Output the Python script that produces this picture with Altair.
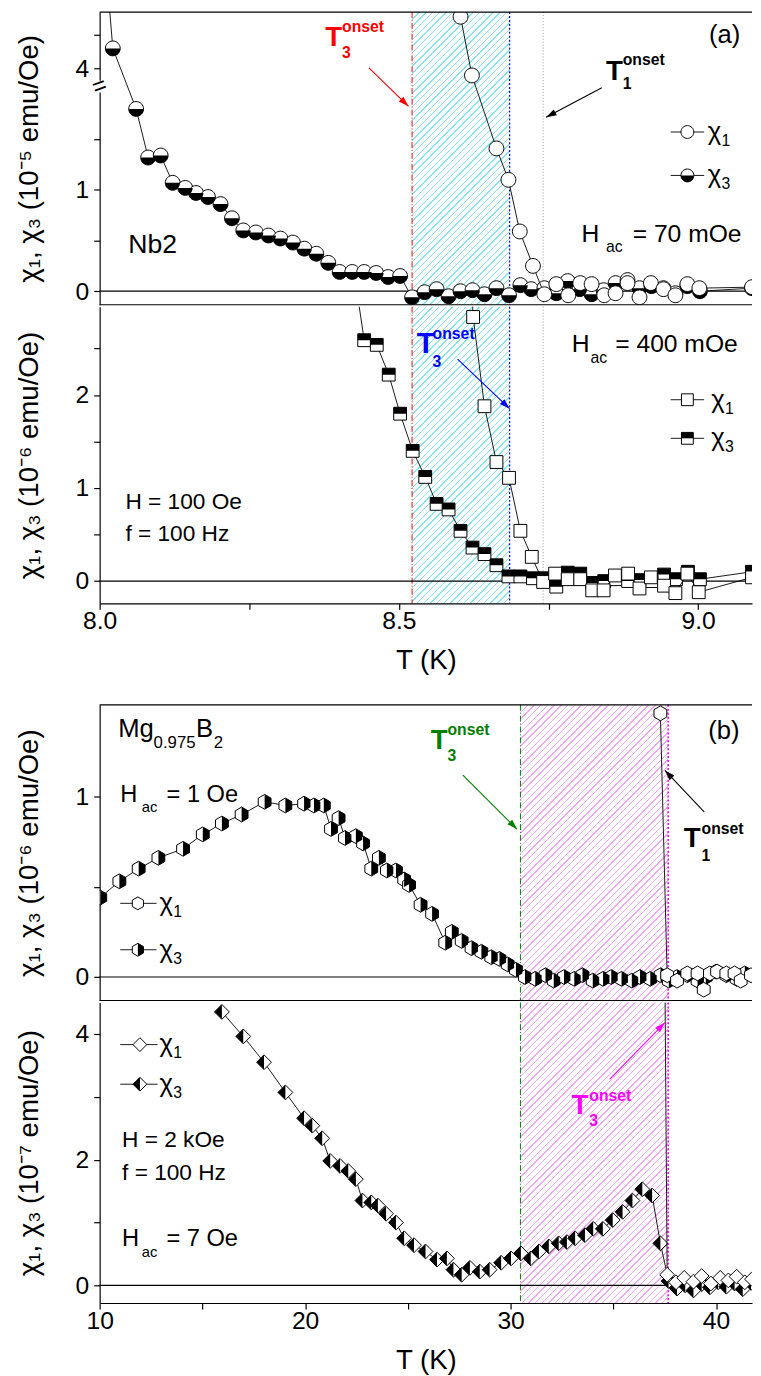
import math
import altair as alt
import pandas as pd

FONT = "Liberation Sans"

# ====================== DATA ======================
# (a) Nb2, upper panel, H_ac = 70 mOe, chi in 1e-5 emu/Oe
nb70_T_chi3 = [8.002, 8.022, 8.061, 8.081, 8.102, 8.122, 8.143, 8.161, 8.181, 8.202,
               8.221, 8.240, 8.261, 8.282, 8.302, 8.323, 8.342, 8.362, 8.382, 8.401,
               8.422, 8.442, 8.462, 8.482, 8.502, 8.522, 8.543, 8.563, 8.583, 8.603,
               8.623, 8.643, 8.663, 8.684, 8.703, 8.721, 8.743, 8.763, 8.782, 8.802,
               8.822, 8.842, 8.862, 8.882, 8.902, 8.922, 8.942, 8.962, 8.982, 9.003, 9.09]
nb70_chi3 = [6.5, 4.30, 1.80, 1.32, 1.34, 1.07, 1.02, 0.97, 0.93, 0.86,
             0.72, 0.60, 0.58, 0.55, 0.52, 0.48, 0.42, 0.37, 0.28, 0.19,
             0.19, 0.19, 0.18, 0.14, 0.15, -0.06, -0.01, 0.02, -0.05, 0.00,
             0.01, -0.03, 0.03, -0.04, 0.06, 0.02, 0.03, -0.02, 0.10, 0.02,
             -0.03, 0.01, 0.08, 0.11, 0.03, 0.05, 0.03, -0.02, 0.05, 0.00, 0.03]
nb70_T_chi1 = [8.603, 8.622, 8.663, 8.683, 8.702, 8.724, 8.743, 8.763, 8.783, 8.803,
               8.822, 8.843, 8.862, 8.882, 8.902, 8.921, 8.942, 8.962, 8.982, 9.002, 9.09]
nb70_chi1 = [4.78, 3.89, 1.41, 1.10, 0.59, 0.25, -0.03, 0.07, -0.04, 0.08,
             0.07, -0.04, -0.02, 0.08, -0.06, 0.08, 0.02, -0.04, 0.07, 0.03, 0.04]

# (a) Nb2, lower panel, H_ac = 400 mOe, chi in 1e-6 emu/Oe
nb400_T_chi3 = [8.422, 8.442, 8.463, 8.483, 8.502, 8.523, 8.544, 8.563, 8.583, 8.603,
                8.623, 8.643, 8.663, 8.683, 8.703, 8.724, 8.743, 8.763, 8.782, 8.803,
                8.823, 8.843, 8.863, 8.883, 8.903, 8.923, 8.943, 8.963, 8.983, 9.003, 9.09]
nb400_chi3 = [3.46, 2.59, 2.54, 2.22, 1.80, 1.40, 1.12, 0.83, 0.77, 0.54,
              0.36, 0.29, 0.17, 0.05, 0.05, 0.03, 0.03, -0.06, 0.09, 0.08,
              -0.02, 0.00, 0.02, 0.00, 0.01, 0.00, 0.07, 0.02, 0.10, 0.02, 0.10]
nb400_T_chi1 = [8.603, 8.624, 8.643, 8.663, 8.684, 8.703, 8.722, 8.741, 8.761, 8.782,
                8.803, 8.823, 8.842, 8.861, 8.883, 8.902, 8.921, 8.943, 8.962, 8.982, 9.001, 9.09]
nb400_chi1 = [6.0, 2.84, 1.88, 1.28, 1.11, 0.54, 0.26, -0.01, 0.08, 0.02,
              0.02, -0.10, -0.10, 0.06, 0.08, -0.08, 0.04, -0.05, -0.13, 0.08, -0.12, 0.04]

# (b) Mg0.975B2, upper panel, H_ac = 1 Oe, chi in 1e-6 emu/Oe
mg1_T_chi3 = [10.03, 10.96, 11.90, 12.86, 14.06, 15.02, 15.95, 16.91, 18.03, 19.04,
              19.95, 20.43, 20.91, 21.26, 21.63, 21.94, 22.47, 22.82, 23.22, 23.59,
              23.98, 24.42, 24.82, 25.06, 25.62, 26.18, 26.82, 27.14, 27.62, 28.10,
              28.58, 29.06, 29.46, 29.86, 30.26, 30.70, 31.20, 31.70, 32.10, 32.60,
              33.10, 33.50, 34.00, 34.50, 34.90, 35.40, 35.90, 36.30, 36.80, 37.30,
              37.70, 38.10, 38.60, 39.10, 39.50, 40.00, 40.50, 41.00, 41.40]
mg1_chi3 = [0.44, 0.53, 0.60, 0.66, 0.71, 0.79, 0.85, 0.90, 0.97, 0.95,
            0.96, 0.95, 0.95, 0.82, 0.88, 0.77, 0.78, 0.74, 0.60, 0.66,
            0.59, 0.59, 0.54, 0.51, 0.40, 0.35, 0.19, 0.25, 0.20, 0.16,
            0.14, 0.11, 0.10, 0.07, 0.04, 0.00, -0.01, 0.01, -0.02, 0.00,
            -0.01, 0.01, -0.02, -0.01, 0.00, -0.01, -0.02, 0.00, -0.01, 0.01,
            -0.02, 0.00, 0.01, -0.02, 0.00, 0.03, 0.01, -0.01, 0.02]
mg1_T_chi1 = [37.29, 37.62, 38.10, 38.60, 39.10, 39.40, 39.70, 40.05, 40.50, 40.90, 41.20, 41.70]
mg1_chi1 = [1.46, 0.01, -0.02, 0.02, 0.02, -0.07, 0.02, 0.03, 0.02, 0.02, -0.02, 0.01]

# (b) Mg0.975B2, lower panel, H_ac = 7 Oe, chi in 1e-7 emu/Oe
mg7_T_chi3 = [15.95, 16.99, 18.00, 19.04, 19.95, 20.35, 20.83, 21.22, 21.70, 22.10,
              22.47, 22.79, 23.22, 23.54, 23.94, 24.42, 24.82, 25.30, 25.86, 26.42,
              26.90, 27.22, 27.62, 28.02, 28.50, 28.98, 29.54, 30.02, 30.50, 30.98,
              31.38, 31.86, 32.34, 32.74, 33.14, 33.62, 34.02, 34.49, 34.97, 35.45,
              35.93, 36.41, 36.89, 37.29, 37.69, 38.10, 38.50, 38.90, 39.30, 39.70,
              40.10, 40.50, 40.90, 41.30, 41.70]
mg7_chi3 = [4.35, 3.96, 3.55, 3.07, 2.66, 2.54, 2.34, 1.98, 1.90, 1.82,
            1.69, 1.35, 1.32, 1.27, 1.14, 1.00, 0.75, 0.64, 0.54, 0.41,
            0.43, 0.25, 0.17, 0.28, 0.22, 0.25, 0.36, 0.43, 0.51, 0.43,
            0.54, 0.62, 0.67, 0.69, 0.75, 0.80, 0.90, 0.90, 1.04, 1.17,
            1.35, 1.53, 1.43, 0.67, 0.07, -0.05, 0.00, -0.08, 0.02, -0.03,
            0.05, -0.02, 0.03, -0.06, 0.04]
mg7_T_chi1 = [37.29, 37.62, 38.05, 38.45, 38.90, 39.30, 39.75, 40.20, 40.60, 41.00, 41.40, 41.75]
mg7_chi1 = [14.6, 0.17, 0.05, 0.12, 0.06, 0.15, 0.03, 0.12, 0.08, 0.14, 0.05, 0.10]

# characteristic temperatures (K)
NB_T3_70 = 8.522
NB_T3_400 = 8.685
NB_T1 = 8.741
MG_T3_1 = 30.48
MG_T3_7 = 37.67

# tick values
A_XVALS = [8.0, 8.25, 8.5, 8.75, 9.0]
B_XVALS = [10, 15, 20, 25, 30, 35, 40]

# ====================== LAYOUT / STYLE ======================
W = 662
A_X = [8.0, 9.09]
B_X = [10.0, 41.75]
H_A1, H_A2, H_B1, H_B2 = 297, 301, 300, 305
A1_Y = [-0.134, 2.756]          # broken axis (transformed units)
A2_Y = [-0.24, 2.95]
B1_Y = [-0.13, 1.507]
B2_Y = [-0.28, 4.5]
BRK_LO, BRK_HI, BRK_R = 2.02, 3.72, 0.651


def brk(v):
    return v if v <= BRK_LO else BRK_LO + max(v - BRK_HI, 0) * BRK_R


BRK_EXPR = f"datum.v <= {BRK_LO} ? datum.v : {BRK_LO} + max(datum.v - {BRK_HI}, 0) * {BRK_R}"

YTP = 32      # y title padding
XTP = 13      # x title padding
LBL = 25
TTL = 28

CIRCLE = "M -1 0 A 1 1 0 1 0 1 0 A 1 1 0 1 0 -1 0 Z"
CIRCLE_BOT = "M -1 0 A 1 1 0 0 0 1 0 Z"
SQUARE = "M -1 -1 L 1 -1 L 1 1 L -1 1 Z"
SQUARE_TOP = "M -1 -1 L 1 -1 L 1 0 L -1 0 Z"
HEX = "M 0 -1 L 0.866 -0.5 L 0.866 0.5 L 0 1 L -0.866 0.5 L -0.866 -0.5 Z"
HEX_RIGHT = "M 0 -1 L 0.866 -0.5 L 0.866 0.5 L 0 1 Z"
DIAMOND = "M 0 -1 L 1 0 L 0 1 L -1 0 Z"
DIAMOND_LEFT = "M 0 -1 L 0 1 L -1 0 Z"
ARROW = "M 0 0 L 0.42 1.3 L -0.42 1.3 Z"
GAP = "M -0.5 -1 L 0.5 -1 L 0.5 1 L -0.5 1 Z"

CYAN = "#86e6f1"
MAGENTA_H = "#f4a6f4"


def make_xy(xdom, ydom, xax, yax):
    """Every layer of a panel uses the very same scale and axis definitions."""
    xs = alt.Scale(domain=xdom, nice=False, zero=False)
    ys = alt.Scale(domain=ydom, nice=False, zero=False)

    def X(f="T"):
        return alt.X(f"{f}:Q", scale=xs, axis=xax)

    def Y(f="v"):
        return alt.Y(f"{f}:Q", scale=ys, axis=yax)
    return X, Y


def hatch_fill(color, w, h, period=4.8, lw=1.0):
    k = (w + h) / (w * w + h * h)
    n = max(1, int(round((w + h) / math.sqrt(2) / period)))
    clear = "rgba(255,255,255,0)"
    f = lw / period
    stops = []
    for i in range(n):
        a, b, c = i / n, (i + f) / n, (i + 1) / n
        stops += [alt.GradientStop(offset=a, color=color), alt.GradientStop(offset=b, color=color),
                  alt.GradientStop(offset=b, color=clear), alt.GradientStop(offset=c, color=clear)]
    return alt.LinearGradient(gradient="linear", stops=stops, x1=0, y1=0, x2=w * k, y2=h * k)


def yaxis(title, values, expr):
    return alt.Axis(title=title, values=values, labelExpr=expr, orient="left", tickSize=6,
                    labelPadding=5, titlePadding=YTP, labelOverlap=False, grid=False)


def xaxis_full(values, expr):
    return alt.Axis(orient="bottom", title="T (K)", values=values, labelExpr=expr, labelFlush=False,
                    labelOverlap=False, tickSize=6, labelPadding=0, titlePadding=XTP, grid=False, zindex=1)


def xaxis_spacer(pad):
    return alt.Axis(orient="top", title=" ", titleFontSize=20, titlePadding=pad, labels=False,
                    ticks=False, domain=False, grid=False)


def base_layers(X, Y, xdom, ydom, H, hatch, vlines):
    t0, t1, col = hatch
    w = (t1 - t0) * W / (xdom[1] - xdom[0])
    layers = [alt.Chart(pd.DataFrame({"T": [t0], "T2": [t1], "v": [ydom[0]], "v2": [ydom[1]]}))
              .mark_rect(fill=hatch_fill(col, w, H), strokeWidth=0)
              .encode(x=X(), x2="T2", y=Y(), y2="v2")]
    for (T, color, dash, sw) in vlines:
        layers.append(alt.Chart(pd.DataFrame({"T": [T]}))
                      .mark_rule(color=color, strokeDash=dash, strokeWidth=sw)
                      .encode(x=X("T")))
    layers.append(alt.Chart(pd.DataFrame({"v": [0.0]}))
                  .mark_rule(color="black", strokeWidth=1.2).encode(y=Y("v")))
    return layers


def frame(X, Y, levels):
    return [alt.Chart(pd.DataFrame({"v": [lv]})).mark_rule(color="black", strokeWidth=1.2)
            .encode(y=Y()) for lv in levels]


def series(X, Y, T, vals, full, half, size, calc=None):
    base = alt.Chart(pd.DataFrame({"T": T, "v": vals}))
    yf = "v"
    if calc:
        base = base.transform_calculate(p=calc)
        yf = "p"
    out = [base.mark_line(color="black", strokeWidth=0.9, clip=True).encode(x=X(), y=Y(yf)),
           base.mark_point(shape=full, filled=True, fill="white", stroke="black", strokeWidth=1,
                           size=size, opacity=1, clip=True).encode(x=X(), y=Y(yf))]
    if half:
        out.append(base.mark_point(shape=half, filled=True, fill="black", strokeWidth=0,
                                   size=size, opacity=1, clip=True).encode(x=X(), y=Y(yf)))
    return out


def label(X, Y, T, v, s, size, dx=0, dy=0, color="black", bold=False):
    return (alt.Chart(pd.DataFrame({"T": [T], "v": [v], "s": [s]}))
            .mark_text(align="left", baseline="middle", font=FONT, fontSize=size,
                       fontWeight="bold" if bold else "normal", color=color, dx=dx, dy=dy)
            .encode(x=X(), y=Y(), text="s:N"))


def onset(X, Y, T, v, sub, color, size=28, small=16, dx=17, dy_up=-11, dy_dn=15):
    return [label(X, Y, T, v, "T", size, color=color, bold=True),
            label(X, Y, T, v, "onset", small, dx=dx, dy=dy_up, color=color, bold=True),
            label(X, Y, T, v, sub, small, dx=dx, dy=dy_dn, color=color, bold=True)]


def hac(X, Y, T, v, rest, size, dx_ac, dx_rest, dy_ac=14):
    return [label(X, Y, T, v, "H", size),
            label(X, Y, T, v, "ac", round(size * 0.62), dx=dx_ac, dy=dy_ac),
            label(X, Y, T, v, rest, size, dx=dx_rest)]


def arrow(X, Y, T0, v0, T1, v1, color, sx, sy):
    ang = math.degrees(math.atan2((T1 - T0) * sx, (v1 - v0) * sy)) % 360
    shaft = (alt.Chart(pd.DataFrame({"T": [T0], "v": [v0], "T2": [T1], "v2": [v1]}))
             .mark_rule(color=color, strokeWidth=1.1).encode(x=X(), y=Y(), x2="T2", y2="v2"))
    head = (alt.Chart(pd.DataFrame({"T": [T1], "v": [v1]}))
            .mark_point(shape=ARROW, filled=True, color=color, size=260, angle=ang, opacity=1)
            .encode(x=X(), y=Y()))
    return [shaft, head]


def legend_entry(X, Y, Ta, Tb, Ts, Tt, v, full, half, size, sub):
    out = [alt.Chart(pd.DataFrame({"T": [Ta], "T2": [Tb], "v": [v]}))
           .mark_rule(color="black", strokeWidth=0.9).encode(x=X(), x2="T2", y=Y())]
    p = alt.Chart(pd.DataFrame({"T": [Ts], "v": [v]}))
    out.append(p.mark_point(shape=full, filled=True, fill="white", stroke="black", strokeWidth=1,
                            size=size, opacity=1).encode(x=X(), y=Y()))
    if half:
        out.append(p.mark_point(shape=half, filled=True, fill="black", strokeWidth=0,
                                size=size, opacity=1).encode(x=X(), y=Y()))
    out.append(label(X, Y, Tt, v, "χ", 26))
    out.append(label(X, Y, Tt, v, sub, 16, dx=14, dy=9))
    return out


A_XEXPR = "round(datum.value * 4) % 2 == 0 ? format(datum.value, '.1f') : ''"
B_XEXPR = "datum.value % 10 == 0 ? '' + datum.value : ''"
INT_EXPR = "datum.value % 1 == 0 ? '' + datum.value : ''"
sxA = W / (A_X[1] - A_X[0])
sxB = W / (B_X[1] - B_X[0])

a_vlines = [(NB_T3_70, "#ff0000", [6, 2, 1, 2], 1.0),
            (NB_T3_400, "#0000ff", [2, 2], 1.2),
            (NB_T1, "#999999", [1, 2], 1.0)]
b_vlines = [(MG_T3_1, "#008000", [6, 2, 1, 2], 1.0),
            (MG_T3_7, "#ff00ff", [2, 2], 1.6)]

# ---------------- (a) upper ----------------
p4, p45 = brk(4.0), brk(4.5)
a1_yax = yaxis("χ₁, χ₃ (10⁻⁵ emu/Oe)", [0, 0.5, 1, 1.5, p4, p45],
               f"datum.value == 0 ? '0' : (datum.value == 1 ? '1' : (abs(datum.value - {p4!r}) < 0.001 ? '4' : ''))")
X, Y = make_xy(A_X, A1_Y, None, a1_yax)
syA1 = H_A1 / (A1_Y[1] - A1_Y[0])
L = base_layers(X, Y, A_X, A1_Y, H_A1, (NB_T3_70, NB_T3_400, CYAN), a_vlines)
L += series(X, Y, nb70_T_chi3, nb70_chi3, CIRCLE, CIRCLE_BOT, 225, calc=BRK_EXPR)
L += series(X, Y, nb70_T_chi1, nb70_chi1, CIRCLE, None, 225, calc=BRK_EXPR)
bdf = pd.DataFrame({"T": [A_X[0]], "v": [BRK_LO]})
L.append(alt.Chart(bdf).mark_point(shape=GAP, filled=True, fill="white", strokeWidth=0, size=144, opacity=1)
         .encode(x=X(), y=Y()))
L.append(alt.Chart(bdf).mark_text(text="=", font=FONT, fontSize=24, angle=340, align="center",
                                  baseline="middle", color="black").encode(x=X(), y=Y()))
L += onset(X, Y, 8.377, 2.498, "3", "#ff0000")
L += arrow(X, Y, 8.450, 2.206, 8.516, 1.826, "#ff0000", sxA, syA1)
L += onset(X, Y, 8.846, 2.167, "1", "black", dy_up=-12, dy_dn=13)
L += arrow(X, Y, 8.839, 2.010, 8.746, 1.718, "black", sxA, syA1)
L.append(label(X, Y, 8.048, 0.451, "Nb2", 27))
L.append(label(X, Y, 9.018, 2.527, "(a)", 26))
L += hac(X, Y, 8.805, 0.568, "= 70 mOe", 25, 25, 52)
L += legend_entry(X, Y, 8.954, 9.010, 8.982, 9.016, 1.572, CIRCLE, None, 170, "1")
L += legend_entry(X, Y, 8.954, 9.010, 8.982, 9.016, 1.143, CIRCLE, CIRCLE_BOT, 170, "3")
L += frame(X, Y, A1_Y)
a1 = alt.layer(*L).properties(width=W, height=H_A1)

# ---------------- (a) lower ----------------
a2_yax = yaxis("χ₁, χ₃ (10⁻⁶ emu/Oe)", [0, 0.5, 1, 1.5, 2, 2.5], INT_EXPR)
X, Y = make_xy(A_X, A2_Y, xaxis_full(A_XVALS, A_XEXPR), a2_yax)
syA2 = H_A2 / (A2_Y[1] - A2_Y[0])
L = base_layers(X, Y, A_X, A2_Y, H_A2, (NB_T3_70, NB_T3_400, CYAN), a_vlines)
L += series(X, Y, nb400_T_chi3, nb400_chi3, SQUARE, SQUARE_TOP, 169)
L += series(X, Y, nb400_T_chi1, nb400_chi1, SQUARE, None, 169)
L += onset(X, Y, 8.530, 2.545, "3", "#0000ff", size=30, dx=16, dy_up=-10, dy_dn=18)
L += arrow(X, Y, 8.598, 2.386, 8.685, 1.854, "#0000ff", sxA, syA2)
L += hac(X, Y, 8.789, 2.545, "= 400 mOe", 25, 19, 44)
L.append(label(X, Y, 8.043, 0.844, "H = 100 Oe", 23))
L.append(label(X, Y, 8.043, 0.503, "f = 100 Hz", 23))
L += legend_entry(X, Y, 8.954, 9.010, 8.982, 9.022, 1.95, SQUARE, None, 144, "1")
L += legend_entry(X, Y, 8.954, 9.010, 8.982, 9.022, 1.535, SQUARE, SQUARE_TOP, 144, "3")
a2 = alt.layer(*L).properties(width=W, height=H_A2)

# ---------------- (b) upper ----------------
b1_yax = yaxis("χ₁, χ₃ (10⁻⁶ emu/Oe)", [0, 0.5, 1], INT_EXPR)
X, Y = make_xy(B_X, B1_Y, xaxis_spacer(11), b1_yax)
syB1 = H_B1 / (B1_Y[1] - B1_Y[0])
L = base_layers(X, Y, B_X, B1_Y, H_B1, (MG_T3_1, MG_T3_7, MAGENTA_H), b_vlines)
L += series(X, Y, mg1_T_chi3, mg1_chi3, HEX, HEX_RIGHT, 225)
L += series(X, Y, mg1_T_chi1, mg1_chi1, HEX, None, 225)
L.append(label(X, Y, 10.90, 1.373, "Mg", 26))
L.append(label(X, Y, 10.90, 1.373, "0.975", 17, dx=36, dy=14))
L.append(label(X, Y, 10.90, 1.373, "B", 26, dx=79))
L.append(label(X, Y, 10.90, 1.373, "2", 17, dx=97, dy=14))
L += hac(X, Y, 11.0, 1.005, "= 1 Oe", 24, 22, 47, dy_ac=12)
L += legend_entry(X, Y, 11.0, 12.77, 11.86, 12.91, 0.408, HEX, None, 170, "1")
L += legend_entry(X, Y, 11.0, 12.77, 11.86, 12.91, 0.151, HEX, HEX_RIGHT, 170, "3")
L.append(label(X, Y, 39.62, 1.362, "(b)", 26))
L += onset(X, Y, 26.11, 1.308, "3", "#008000")
L += arrow(X, Y, 27.68, 1.118, 30.32, 0.818, "#008000", sxB, syB1)
L += onset(X, Y, 38.43, 0.762, "1", "black", dx=18, dy_up=-10, dy_dn=17)
L += arrow(X, Y, 39.42, 0.915, 37.51, 1.144, "black", sxB, syB1)
L += frame(X, Y, B1_Y)
b1 = alt.layer(*L).properties(width=W, height=H_B1)

# ---------------- (b) lower ----------------
b2_yax = yaxis("χ₁, χ₃ (10⁻⁷ emu/Oe)", [0, 1, 2, 3, 4], "datum.value % 2 == 0 ? '' + datum.value : ''")
X, Y = make_xy(B_X, B2_Y, xaxis_full(B_XVALS, B_XEXPR), b2_yax)
syB2 = H_B2 / (B2_Y[1] - B2_Y[0])
L = base_layers(X, Y, B_X, B2_Y, H_B2, (MG_T3_1, MG_T3_7, MAGENTA_H), b_vlines)
L += series(X, Y, mg7_T_chi3, mg7_chi3, DIAMOND, DIAMOND_LEFT, 225)
L += series(X, Y, mg7_T_chi1, mg7_chi1, DIAMOND, None, 225)
L += legend_entry(X, Y, 11.0, 12.82, 11.96, 12.91, 3.83, DIAMOND, None, 196, "1")
L += legend_entry(X, Y, 11.0, 12.82, 11.96, 12.91, 3.20, DIAMOND, DIAMOND_LEFT, 196, "3")
L.append(label(X, Y, 11.09, 2.31, "H = 2 kOe", 23))
L.append(label(X, Y, 11.09, 1.79, "f = 100 Hz", 23))
L += hac(X, Y, 11.09, 0.742, "= 7 Oe", 24, 20, 45, dy_ac=13)
L += onset(X, Y, 32.97, 2.844, "3", "#ff00ff", dx=18, dy_up=-11, dy_dn=15)
L += arrow(X, Y, 34.83, 3.28, 37.51, 4.18, "#ff00ff", sxB, syB2)
b2 = alt.layer(*L).properties(width=W, height=H_B2)

chart = alt.vconcat(a1, a2, b1, b2, spacing=0)
chart = (chart.properties(padding={"left": 8, "top": -7, "right": 0, "bottom": 0})
         .configure(font=FONT)
         .configure_view(strokeWidth=0)
         .configure_axis(labelFont=FONT, titleFont=FONT, labelFontSize=LBL, titleFontSize=TTL,
                         titleFontWeight="normal", labelColor="black", titleColor="black",
                         tickColor="black", domainColor="black", tickWidth=1.2, domainWidth=1.2))

chart.save("out.html", embed_options={"renderer": "svg", "actions": False})
